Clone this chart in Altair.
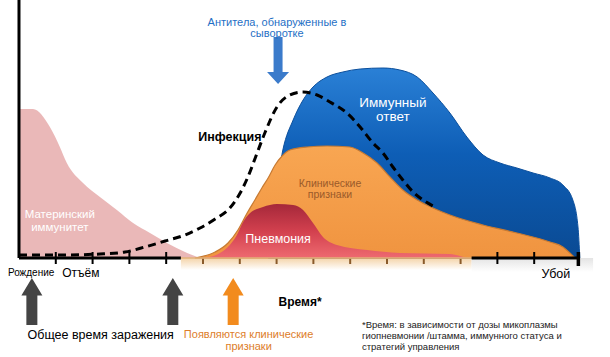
import altair as alt
import pandas as pd

# ---------------- data (time in tick units, level in arbitrary units) ----------------
mat_t = [0, 0.38, 0.84, 1.11, 1.30, 1.74, 2.20, 2.66, 3.10, 3.56, 4.02, 4.57, 4.92]
mat_h = [149, 149, 131, 111, 95, 75, 61, 48, 35, 25, 15, 5, 0]

inf_t = [0, 1.11, 2.20, 2.88, 3.42, 3.97, 4.51, 4.92, 5.33, 5.73, 6.01, 6.22, 6.47, 6.68,
         7.01, 7.36, 7.72, 8.10, 8.45, 8.91, 9.27, 9.62, 9.89, 10.16, 10.43, 10.71, 10.98, 11.30]
inf_h = [3, 3, 4, 6, 11, 17, 23, 30, 39, 50, 65, 81, 105, 125,
         151, 163, 166, 163, 156, 145, 131, 115, 105, 91, 78, 66, 58, 51]

imm_t = [6.77, 7.17, 7.45, 7.72, 7.99, 8.37, 8.80, 9.27, 9.89, 10.35, 10.82, 11.25, 11.71,
         12.17, 12.61, 13.07, 13.53, 13.97, 14.43, 14.78, 15.05, 15.19, 15.24]
imm_h = [0, 108, 138, 158, 171, 181, 186, 189, 190, 188, 181, 165, 145,
         121, 103, 95, 90, 85, 80, 73, 58, 31, 0]

cli_t = [4.78, 5.33, 5.68, 5.95, 6.20, 6.41, 6.60, 6.77, 6.96, 7.15, 7.36, 7.83, 8.37, 8.99,
         9.35, 9.73, 10.08, 10.43, 10.82, 11.25, 11.71, 12.61, 13.53, 14.43, 14.78, 14.97, 15.11]
cli_h = [0, 6, 15, 28, 45, 58, 70, 80, 93, 102, 108, 111, 112, 111,
         105, 95, 81, 68, 58, 50, 43, 33, 25, 16, 11, 5, 0]

pne_t = [5.05, 5.46, 5.73, 5.92, 6.09, 6.28, 6.63, 7.01, 7.45, 7.72, 7.99, 8.26, 8.64,
         9.46, 10.35, 11.71, 11.98, 12.17]
pne_h = [0, 5, 13, 23, 36, 45, 51, 54, 53, 48, 35, 21, 13, 8, 5, 4, 2, 0]

tick_t = list(range(1, 15))
axis_end = 15.2

FONT = "Liberation Sans"
XMIN, XMAX = -0.516, 16.06
YMIN, YMAX = -99, 258
xs = alt.Scale(domain=[XMIN, XMAX], nice=False, zero=False)
ys = alt.Scale(domain=[YMIN, YMAX], nice=False, zero=False)


def X(f="t"):
    return alt.X(f"{f}:Q", scale=xs, axis=None)


def Y(f="h"):
    return alt.Y(f"{f}:Q", scale=ys, axis=None)


def grad(stops, horizontal=False):
    if horizontal:
        return alt.Gradient(gradient="linear",
                            stops=[alt.GradientStop(color=c, offset=o) for o, c in stops],
                            x1=0, x2=1, y1=0, y2=0)
    return alt.Gradient(gradient="linear",
                        stops=[alt.GradientStop(color=c, offset=o) for o, c in stops],
                        x1=0, x2=0, y1=0, y2=1)


def area(t, h, fill, stroke=None, sw=0, opacity=1.0):
    df = pd.DataFrame({"t": t, "h": h})
    kw = dict(interpolate="monotone", fill=fill, opacity=opacity)
    if stroke:
        kw.update(stroke=stroke, strokeWidth=sw)
    return alt.Chart(df).mark_area(**kw).encode(x=X(), y=Y(), y2=alt.datum(0))


def rect(t1, t2, h1, h2, fill, opacity=1.0):
    df = pd.DataFrame({"t": [t1], "t2": [t2], "h": [h1], "h2": [h2]})
    return alt.Chart(df).mark_rect(fill=fill, opacity=opacity).encode(
        x=X(), x2=alt.X2("t2"), y=Y(), y2=alt.Y2("h2"))


def rule_h(t1, t2, h, color, w):
    df = pd.DataFrame({"t": [t1], "t2": [t2], "h": [h]})
    return alt.Chart(df).mark_rule(color=color, strokeWidth=w).encode(
        x=X(), x2=alt.X2("t2"), y=Y())


def rules_v(ts, h1, h2, color, w):
    df = pd.DataFrame({"t": ts, "h": [h1] * len(ts), "h2": [h2] * len(ts)})
    return alt.Chart(df).mark_rule(color=color, strokeWidth=w).encode(
        x=X(), y=Y(), y2=alt.Y2("h2"))


def label(lines, t, h0, color, size, weight="normal", align="center", step=11):
    df = pd.DataFrame({"t": [t] * len(lines),
                       "h": [h0 - i * step for i in range(len(lines))],
                       "txt": lines})
    return alt.Chart(df).mark_text(color=color, fontSize=size, fontWeight=weight,
                                   align=align, baseline="middle", font=FONT).encode(
        x=X(), y=Y(), text="txt:N")


UP = "M0,-23.5L10.5,-6L5.5,-6L5.5,23.5L-5.5,23.5L-5.5,-6L-10.5,-6Z"
DOWN = "M0,23.5L11,11.5L4.5,11.5L4.5,-23.5L-4.5,-23.5L-4.5,11.5L-11,11.5Z"


def arrow(t, h, shape, fill):
    df = pd.DataFrame({"t": [t], "h": [h]})
    return alt.Chart(df).mark_point(shape=shape, size=4, filled=True, fill=fill,
                                    opacity=1, strokeWidth=0).encode(x=X(), y=Y())


layers = [
    # soft glows below the axis
    rect(4.4, 12.3, 0, -12, grad([(0, "#f4d3a8"), (1, "#ffffff")])),
    rect(12.3, 15.6, 0, -14, grad([(0, "#e4e4e4"), (1, "#ffffff")])),
    rules_v(tick_t[4:12], 0, -6, "#8a5a2a", 2),
    # areas
    area(mat_t, mat_h, "#e9b4b4", opacity=0.95),
    area(imm_t, imm_h, grad([(0, "#2a80d6"), (0.45, "#0e5eb6"), (1, "#0a4a93")]),
         stroke="#0b4f9c", sw=1),
    area(cli_t, cli_h, grad([(0, "#f8a652"), (1, "#f09440")]), stroke="#c77a32", sw=1.2),
    area(pne_t, pne_h, grad([(0, "#a5283a"), (0.5, "#d2404e"), (1, "#ee6a70")])),
    # infection curve
    alt.Chart(pd.DataFrame({"t": inf_t, "h": inf_h})).mark_line(
        interpolate="monotone", color="#000000", strokeWidth=3, strokeDash=[8, 5]
    ).encode(x=X(), y=Y()),
    # axes
    rules_v([0], 0, YMAX, "#000000", 3),
    rule_h(0, 4.4, 0, "#000000", 3),
    rule_h(4.4, 12.3, 0, "#e2b27a", 1.5),
    rule_h(12.3, axis_end, 0, "#000000", 3),
    rules_v(tick_t[:4] + tick_t[12:], 6, -6, "#000000", 2),
    rules_v([axis_end], 6, -8, "#000000", 3.5),
    # arrows
    arrow(7.04, 197.5, DOWN, "#3b7bcb"),
    arrow(0.35, -43.5, UP, "#444444"),
    arrow(4.18, -43.5, UP, "#444444"),
    arrow(5.82, -43.5, UP, "#f28b1e"),
    # texts
    label(["Антитела, обнаруженные в", "сыворотке"], 7.01, 235, "#1f6fc5", 11, step=11),
    label(["Инфекция"], 5.73, 121, "#000000", 12.5, weight="bold"),
    label(["Иммунный", "ответ"], 10.16, 155, "#ffffff", 13.5, step=14),
    label(["Клинические", "признаки"], 8.45, 74, "#9a5a2a", 10.5, step=11),
    label(["Пневмония"], 7.04, 19, "#ffffff", 12.5),
    label(["Материнский", "иммунитет"], 1.11, 43, "#ffffff", 11.5, step=12.5),
    label(["Рождение"], 0.33, -15, "#000000", 10),
    label(["Отъём"], 1.68, -15, "#000000", 12),
    label(["Убой"], 14.59, -16, "#000000", 12.5),
    label(["Время*"], 7.64, -44, "#000000", 12, weight="bold"),
    label(["Общее время заражения"], 2.22, -77, "#000000", 12.5),
    label(["Появляются клинические", "признаки"], 6.24, -77, "#dd7d2a", 11, step=12),
    label(["*Время: в зависимости от дозы микоплазмы",
           "гиопневмонии /штамма, иммунного статуса и",
           "стратегий управления"], 9.32, -67, "#222222", 9.5, align="left", step=11),
]

chart = alt.layer(*layers).properties(
    width=610, height=357,
    autosize=alt.AutoSizeParams(type="none"),
    padding=0,
    background="white",
).configure_view(stroke=None)

chart.save("out.html", embed_options={"renderer": "svg", "actions": False})
